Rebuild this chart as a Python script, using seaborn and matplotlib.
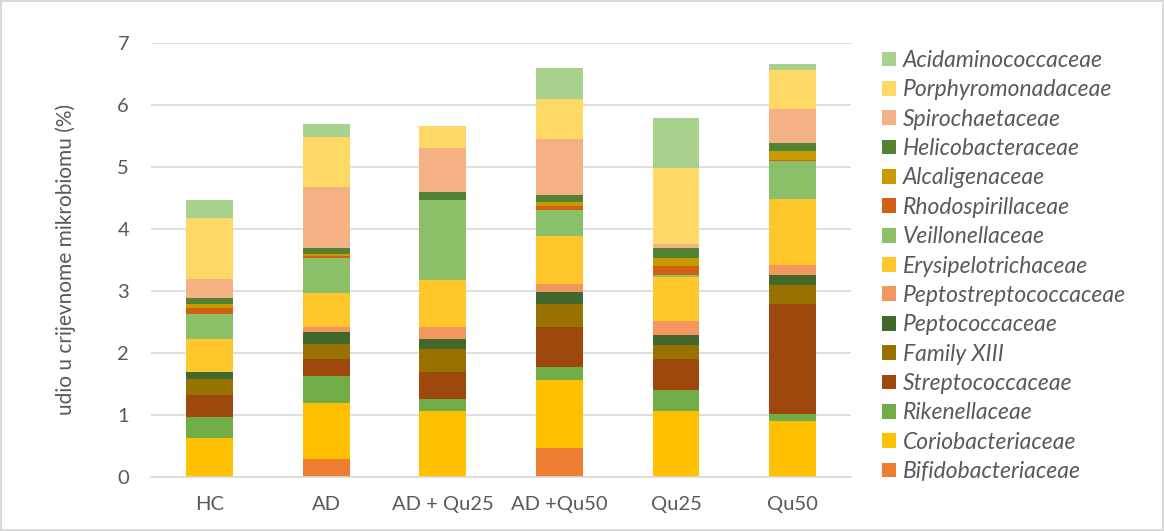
import pandas as pd
import seaborn as sns
import matplotlib.pyplot as plt

sns.set_style("white")
plt.rcParams['font.family'] = ['Lato', 'DejaVu Sans']

# groups on the x axis
groups = ['HC', 'AD', 'AD + Qu25', 'AD +Qu50', 'Qu25', 'Qu50']

# families, top of the legend first (= top of the stack)
families = ['Acidaminococcaceae', 'Porphyromonadaceae', 'Spirochaetaceae',
            'Helicobacteraceae', 'Alcaligenaceae', 'Rhodospirillaceae',
            'Veillonellaceae', 'Erysipelotrichaceae', 'Peptostreptococcaceae',
            'Peptococcaceae', 'Family XIII', 'Streptococcaceae',
            'Rikenellaceae', 'Coriobacteriaceae', 'Bifidobacteriaceae']

# share (%) per group
acidaminococcaceae    = [0.30, 0.20, 0.00, 0.50, 0.80, 0.09]
porphyromonadaceae    = [0.98, 0.81, 0.36, 0.64, 1.23, 0.64]
spirochaetaceae       = [0.30, 0.99, 0.70, 0.90, 0.07, 0.54]
helicobacteraceae     = [0.10, 0.09, 0.13, 0.12, 0.16, 0.13]
alcaligenaceae        = [0.07, 0.04, 0.00, 0.06, 0.12, 0.14]
rhodospirillaceae     = [0.09, 0.03, 0.00, 0.06, 0.15, 0.02]
veillonellaceae       = [0.40, 0.57, 1.30, 0.43, 0.03, 0.61]
erysipelotrichaceae   = [0.54, 0.54, 0.75, 0.77, 0.71, 1.07]
peptostreptococcaceae = [0.00, 0.09, 0.20, 0.12, 0.23, 0.17]
peptococcaceae        = [0.11, 0.18, 0.16, 0.20, 0.16, 0.15]
family_xiii           = [0.26, 0.25, 0.37, 0.38, 0.23, 0.31]
streptococcaceae      = [0.36, 0.27, 0.43, 0.64, 0.50, 1.77]
rikenellaceae         = [0.33, 0.44, 0.20, 0.21, 0.34, 0.12]
coriobacteriaceae     = [0.63, 0.90, 1.06, 1.09, 1.06, 0.90]
bifidobacteriaceae    = [0.00, 0.29, 0.00, 0.47, 0.00, 0.00]

values = [acidaminococcaceae, porphyromonadaceae, spirochaetaceae,
          helicobacteraceae, alcaligenaceae, rhodospirillaceae,
          veillonellaceae, erysipelotrichaceae, peptostreptococcaceae,
          peptococcaceae, family_xiii, streptococcaceae,
          rikenellaceae, coriobacteriaceae, bifidobacteriaceae]

colors = ['#A9D18E', '#FFD966', '#F4B183', '#548235', '#C99A00', '#D26014',
          '#8CC068', '#FFC72C', '#F4975F', '#43682B', '#977200', '#9E480E',
          '#70AD47', '#FFC000', '#ED7D31']
pal = dict(zip(families, colors))

rows = []
for fam, vals in zip(families, values):
    for g, v in zip(groups, vals):
        rows.append({'group': g, 'family': fam, 'share': v})
df = pd.DataFrame(rows)

fig = plt.figure(figsize=(11.64, 5.31), dpi=100)
fig.patch.set_edgecolor('#D9D9D9')
fig.patch.set_linewidth(1.5)
ax = fig.add_axes([0.130, 0.102, 0.601, 0.817])

sns.histplot(data=df, x='group', weights='share', hue='family',
             hue_order=families, palette=pal, multiple='stack',
             discrete=True, shrink=0.40, alpha=1, linewidth=0, ax=ax)

ax.set_xlim(-0.5, 5.5)
ax.set_ylim(0, 7)
ax.set_yticks(range(8))
ax.yaxis.grid(True, color='#D9D9D9', linewidth=1.2)
ax.set_axisbelow(True)
for s in ['top', 'right', 'left']:
    ax.spines[s].set_visible(False)
ax.spines['bottom'].set_color('#D9D9D9')
ax.spines['bottom'].set_linewidth(1.2)
ax.tick_params(axis='both', length=0, labelsize=14.5, labelcolor='#595959')
ax.tick_params(axis='y', pad=16)
ax.tick_params(axis='x', pad=14)
ax.set_xlabel('')
ax.set_ylabel('udio u crijevnome mikrobiomu (%)', fontsize=15, color='#595959', labelpad=30)

sns.move_legend(ax, 'upper left', bbox_to_anchor=(1.031, 1.005), frameon=False,
                title=None, handlelength=0.62, handleheight=0.62, handletextpad=0.3,
                labelspacing=0.365, borderaxespad=0, fontsize=16.5)
for t in ax.get_legend().get_texts():
    t.set_fontstyle('italic')
    t.set_color('#595959')

fig.savefig('out.png', dpi=100)
